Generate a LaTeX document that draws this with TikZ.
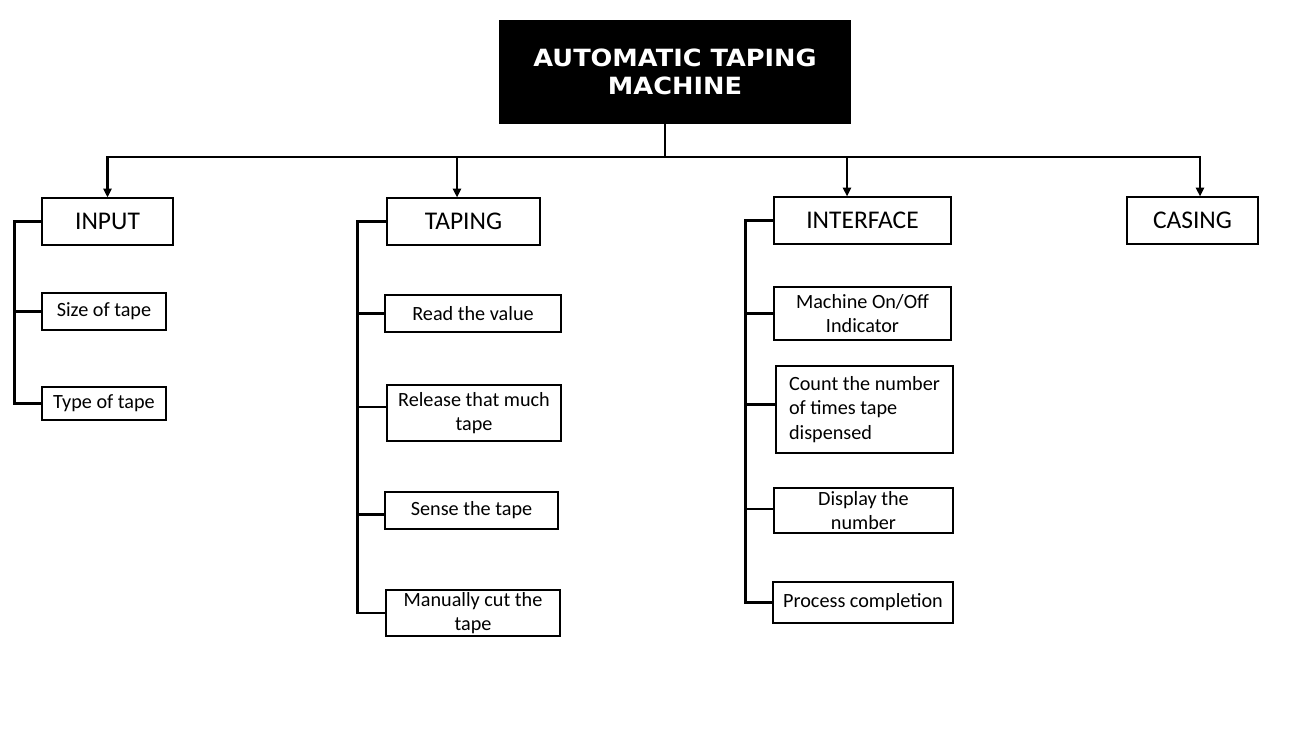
\documentclass[tikz,border=0pt]{standalone}
\usepackage{fontspec}
\setmainfont{Carlito}
\newfontfamily\titlefont[FakeStretch=1.08]{DejaVu Sans}
\usetikzlibrary{arrows.meta, positioning}
\tikzset{
  box/.style={draw=black, line width=0.6pt, fill=white, inner sep=0pt, align=center},
  headbox/.style={box, font=\fontsize{14.5}{17}\selectfont},
  itembox/.style={box, font=\fontsize{11.5}{14}\selectfont},
  wire/.style={line width=1.3pt, black},
  arr/.style={wire, -{Triangle[length=5pt, width=4.5pt]}}
}

\begin{document}
\begin{tikzpicture}[x=0.02cm, y=-0.02cm]
  \useasboundingbox (0,0) rectangle (1292,736);

  % Top box
  \node[fill=black, minimum width=7.04cm, minimum height=2.08cm, text=white, align=center,
        font=\titlefont\bfseries\fontsize{13.5}{16}\selectfont] (title) at (675,72)
        {AUTOMATIC TAPING\\MACHINE};

  % --- Main blocks ---
  \node[headbox, minimum width=2.62cm, minimum height=0.94cm] (input) at (107.5,221.5) {INPUT};
  \node[headbox, minimum width=3.06cm, minimum height=0.94cm] (taping) at (463.5,221.5) {TAPING};
  \node[headbox, minimum width=3.54cm, minimum height=0.94cm] (iface) at (862.5,220.5) {INTERFACE};
  \node[headbox, minimum width=2.62cm, minimum height=0.94cm] (casing) at (1192.5,220.5) {CASING};

  % Root stems
  \coordinate (hub) at (665,157);
  \draw[wire] (title.south -| hub) -- (hub);
  \draw[arr] (hub) -| (input.north);
  \draw[arr] (hub) -| ([xshift=-0.13cm]taping.north);
  \draw[arr] (hub) -| ([xshift=-0.31cm]iface.north);
  \draw[arr] (hub) -| ([xshift=0.15cm]casing.north);

  % --- Input items ---
  \node[itembox, minimum width=2.48cm, minimum height=0.74cm] (size) at (104,311.5) {Size of tape};
  \node[itembox, minimum width=2.48cm, minimum height=0.66cm] (type) at (104,403.5) {Type of tape};

  \draw[wire] (input.west) -- ++(-27,0) |- (type.west);
  \draw[wire] (size.west) -- ++(-27,0);

  % --- Taping items ---
  \node[itembox, minimum width=3.52cm, minimum height=0.74cm] (read) at (473,313.5) {Read the value};
  \node[itembox, minimum width=3.48cm, minimum height=1.12cm] (release) at (474,413) {Release that much\\tape};
  \node[itembox, minimum width=3.46cm, minimum height=0.74cm] (sense) at (471.5,510.5) {Sense the tape};
  \node[itembox, minimum width=3.48cm, minimum height=0.92cm] (cut) at (473,613) {Manually cut the\\tape};

  \draw[wire] (taping.west) -- ++(-29,0) |- (cut.west);
  \draw[wire] (read.west) -- ++(-27,0);
  \draw[wire] ([yshift=0.12cm]release.west) -- ++(-29,0);
  \draw[wire] ([yshift=-0.08cm]sense.west) -- ++(-27,0);

  % --- Interface items ---
  \node[itembox, minimum width=3.54cm, minimum height=1.06cm] (onoff) at (862.5,313.5) {Machine On/Off\\Indicator};
  \node[itembox, minimum width=3.54cm, minimum height=1.74cm, align=left] (count) at (864.5,409.5)
        {Count the number\\of times tape\\dispensed};
  \node[itembox, minimum width=3.58cm, minimum height=0.9cm] (display) at (863.5,510.5) {Display the\\number};
  \node[itembox, minimum width=3.6cm, minimum height=0.82cm] (done) at (863,602.5) {Process completion};

  \draw[wire] (iface.west) -- ++(-28,0) |- (done.west);
  \draw[wire] (onoff.west) -- ++(-28,0);
  \draw[wire] ([yshift=0.1cm]count.west) -- ++(-30,0);
  \draw[wire] ([yshift=0.03cm]display.west) -- ++(-28,0);
\end{tikzpicture}
\end{document}
